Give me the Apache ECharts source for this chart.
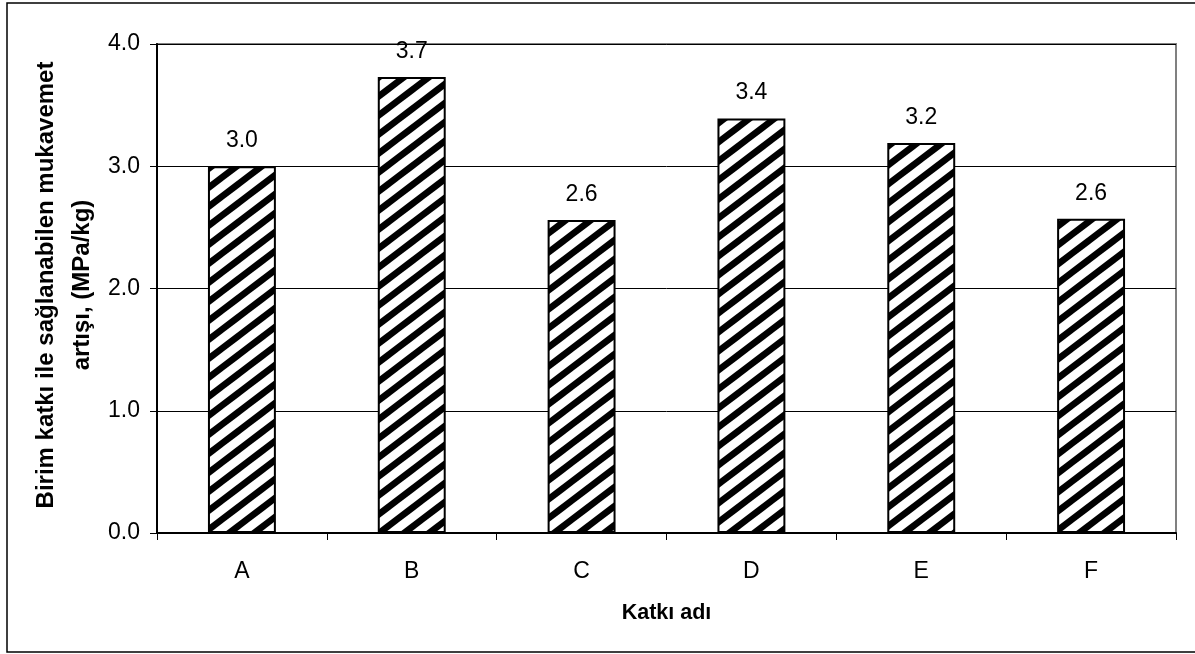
<!DOCTYPE html>
<html>
<head>
<meta charset="utf-8">
<script src="https://cdn.jsdelivr.net/npm/echarts@6/dist/echarts.min.js"></script>
<style>html,body{margin:0;padding:0;background:#fff}#c{width:1195px;height:654px}</style>
</head>
<body>
<div id="c"></div>
<script>
const categories = ['A', 'B', 'C', 'D', 'E', 'F'];
const values = [3.0, 3.73, 2.56, 3.39, 3.19, 2.57];
const yTicks = [0, 1, 2, 3, 4];
const xTitle = 'Katkı adı';
const yTitleLines = ['Birim katkı ile sağlanabilen mukavemet', 'artışı, (MPa/kg)'];

function hatch() {
  const w = 25, h = 19, t = 11;
  const c = document.createElement('canvas');
  c.width = w; c.height = h;
  const g = c.getContext('2d');
  g.fillStyle = '#fff'; g.fillRect(0, 0, w, h);
  g.fillStyle = '#000';
  for (let k = -1; k <= 1; k++) {
    g.beginPath();
    g.moveTo(k * w, h); g.lineTo(k * w + t, h);
    g.lineTo(k * w + t + w, 0); g.lineTo(k * w + w, 0);
    g.closePath(); g.fill();
  }
  return c;
}

const chart = echarts.init(document.getElementById('c'));
const font = 'Arial, "Liberation Sans", sans-serif';
chart.setOption({
  animation: false,
  backgroundColor: '#fff',
  textStyle: { fontFamily: font },
  grid: { left: 157, right: 19, top: 44, bottom: 121, show: true, borderColor: '#808080', borderWidth: 2, backgroundColor: 'transparent' },
  xAxis: {
    type: 'category', data: categories,
    axisLine: { lineStyle: { color: '#000', width: 2 } },
    axisTick: { show: true, length: 7, lineStyle: { color: '#000', width: 1 } },
    axisLabel: { color: '#000', fontSize: 23, margin: 27, fontFamily: font },
    name: xTitle, nameLocation: 'middle', nameGap: 69,
    nameTextStyle: { color: '#000', fontSize: 21.5, fontWeight: 'bold', fontFamily: font }
  },
  yAxis: {
    type: 'value', min: yTicks[0], max: yTicks[yTicks.length - 1], interval: 1,
    axisLine: { show: true, lineStyle: { color: '#000', width: 2 } },
    axisTick: { show: true, length: 7, lineStyle: { color: '#000', width: 1 } },
    axisLabel: { color: '#000', fontSize: 23, margin: 17, fontFamily: font, formatter: v => v.toFixed(1) },
    splitLine: { show: true, lineStyle: { color: '#000', width: 1 } }
  },
  series: [{
    type: 'bar', data: values, barWidth: '40%',
    itemStyle: { color: { image: hatch(), repeat: 'repeat' }, borderColor: '#000', borderWidth: 2 },
    label: { show: true, position: 'top', distance: 14, color: '#000', fontSize: 23, fontFamily: font, formatter: p => p.value.toFixed(1) }
  }],
  graphic: [
    { type: 'rect', shape: { x: 7, y: 3, width: 1200, height: 649 }, style: { fill: 'none', stroke: '#000', lineWidth: 1.5 }, silent: true },
    { type: 'text', x: 64, y: 285, rotation: Math.PI / 2,
      style: { text: yTitleLines.join('\n'), fill: '#000', font: 'bold 24px ' + font, align: 'center', verticalAlign: 'middle', lineHeight: 36 } }
  ]
});
</script>
</body>
</html>
